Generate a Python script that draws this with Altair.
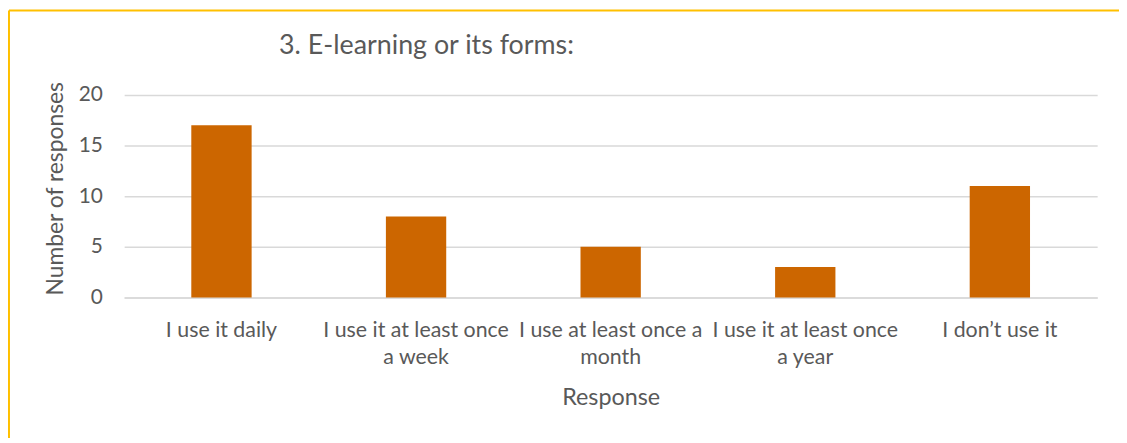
import json
import altair as alt
import pandas as pd

categories = [
    "I use it daily",
    "I use it at least once a week",
    "I use at least once a month",
    "I use it at least once a year",
    "I don\u2019t use it",
]
counts = [17, 8, 5, 3, 11]
label_lines = [
    ["I use it daily"],
    ["I use it at least once", "a week"],
    ["I use at least once a", "month"],
    ["I use it at least once", "a year"],
    ["I don\u2019t use it"],
]
y_ticks = [0, 5, 10, 15, 20]
chart_title = "3. E-learning or its forms:"

FONT = "Lato"
TEXT = "#595959"

df = pd.DataFrame({"Response": categories, "Count": counts})

label_expr = " : ".join(
    f"datum.value === {json.dumps(c, ensure_ascii=False)} ? {json.dumps(l, ensure_ascii=False)}"
    for c, l in zip(categories, label_lines)
) + " : datum.value"

bars = alt.Chart(df).mark_bar(color="#CC6600").encode(
    x=alt.X(
        "Response:N",
        sort=categories,
        scale=alt.Scale(paddingInner=0.69, paddingOuter=0.345),
        axis=alt.Axis(
            title="Response",
            labelAngle=0,
            labelExpr=label_expr,
            labelFont=FONT,
            labelFontSize=21.5,
            labelColor=TEXT,
            labelLineHeight=28,
            labelPadding=22,
            labelLimit=400,
            ticks=False,
            domainColor="#D9D9D9",
            domainWidth=1.5,
            titleFont=FONT,
            titleFontSize=23.5,
            titleFontWeight="normal",
            titleColor=TEXT,
            titleBaseline="alphabetic",
            titleY=108,
        ),
    ),
    y=alt.Y(
        "Count:Q",
        scale=alt.Scale(domain=[0, 20]),
        axis=alt.Axis(
            title="Number of responses",
            values=y_ticks,
            labelFont=FONT,
            labelFontSize=21,
            labelColor=TEXT,
            labelPadding=22,
            ticks=False,
            domain=False,
            gridColor="#D9D9D9",
            gridWidth=1.5,
            titleFont=FONT,
            titleFontSize=23,
            titleFontWeight="normal",
            titleColor=TEXT,
            titleAngle=-90,
            titleBaseline="alphabetic",
            titleAlign="center",
            titleX=-62,
            titleY=94,
        ),
    ),
)

frame_df = pd.DataFrame({"t": [chart_title]})
title_text = alt.Chart(frame_df).mark_text(
    font=FONT, fontSize=27, color=TEXT, align="left", baseline="alphabetic"
).encode(text="t:N", x=alt.value(156), y=alt.value(-41))
top_line = alt.Chart(frame_df).mark_rule(color="#FFC000", strokeWidth=2).encode(
    x=alt.value(-116), x2=alt.value(1010), y=alt.value(-85)
)
left_line = alt.Chart(frame_df).mark_rule(color="#FFC000", strokeWidth=2).encode(
    x=alt.value(-116), y=alt.value(-85), y2=alt.value(400)
)

chart = alt.layer(bars, title_text, top_line, left_line).properties(
    width=980,
    height=204,
    autosize=alt.AutoSizeParams(type="none"),
    padding={"left": 117, "top": 86, "right": 22, "bottom": 140},
).configure_view(stroke=None)

chart.save("out.html", embed_options={"renderer": "svg", "actions": False})
